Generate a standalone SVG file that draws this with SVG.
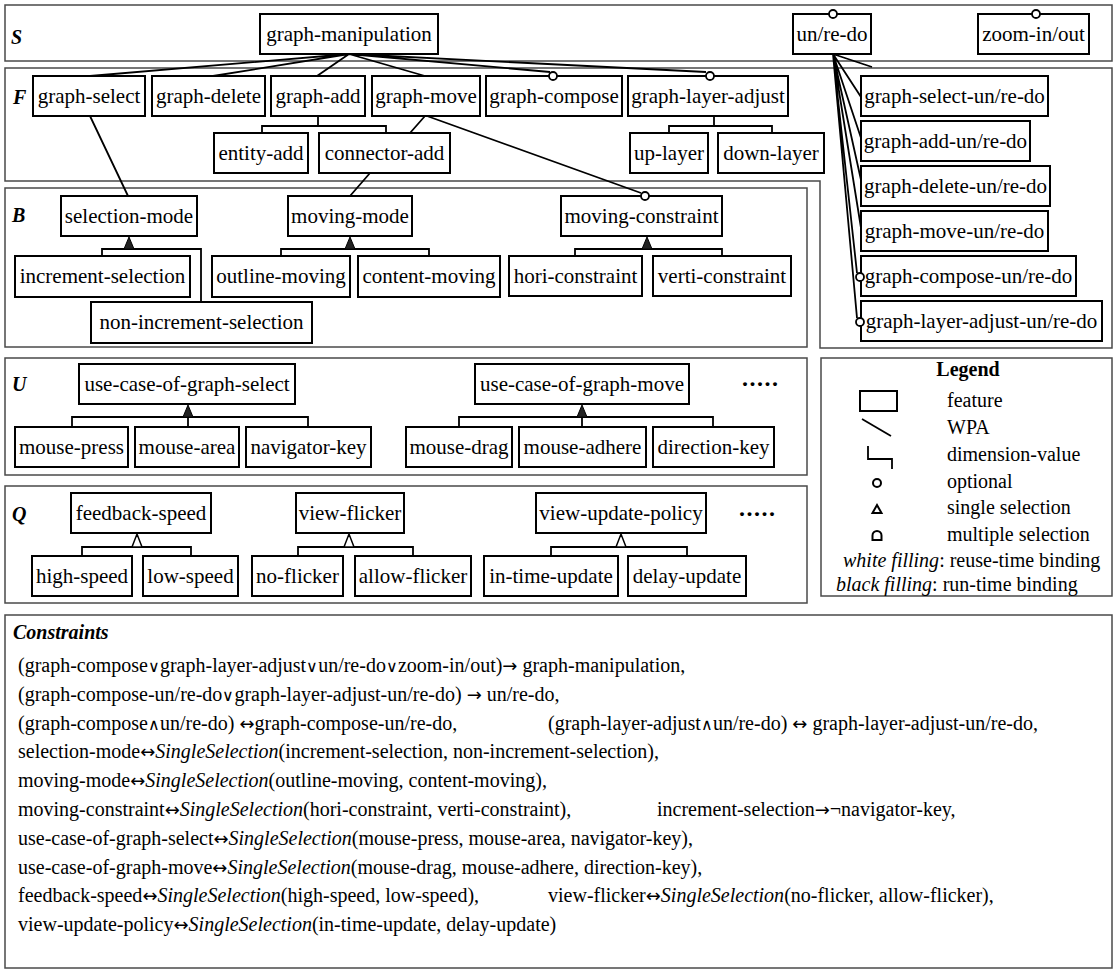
<svg xmlns="http://www.w3.org/2000/svg" width="1116" height="973" viewBox="0 0 1116 973">
<style>
.panel{fill:none;stroke:#4a4a4a;stroke-width:1.5}
.box{fill:#fff;stroke:#000;stroke-width:2}
.t{font-family:"Liberation Serif","Times New Roman",serif;font-size:21px;fill:#000;text-anchor:middle}
.lbl{font-family:"Liberation Serif","Times New Roman",serif;font-size:20px;font-weight:bold;font-style:italic;fill:#000}
.ln{stroke:#000;stroke-width:1.8;fill:none}
.opt{fill:#fff;stroke:#000;stroke-width:1.8}
.tb{fill:#222;stroke:#000;stroke-width:1}
.tw{fill:#fff;stroke:#000;stroke-width:1.5}
.c{font-family:"Liberation Serif","Times New Roman","DejaVu Serif",serif;font-size:20px;fill:#000}
.sym{font-family:"DejaVu Sans",sans-serif;font-size:16px;font-weight:200}
.ar{font-family:"DejaVu Sans",sans-serif;font-size:18px}
.lg{font-family:"Liberation Serif","Times New Roman",serif;font-size:20px;fill:#000}
.dots{font-family:"Liberation Serif",serif;font-size:24px;font-weight:bold;letter-spacing:1.5px}
</style>
<rect width="1116" height="973" fill="#fff"/>
<g id="panels">
<rect class="panel" x="5" y="5" width="1107" height="56"/>
<path class="panel" d="M5,68 H1112 V348 H820 V181 H5 Z"/>
<rect class="panel" x="5" y="188" width="802" height="159"/>
<rect class="panel" x="5" y="358" width="802" height="117"/>
<rect class="panel" x="5" y="486" width="802" height="117"/>
<rect class="panel" x="821" y="358" width="291" height="238"/>
<rect class="panel" x="5" y="615" width="1107" height="353"/>
<text class="lbl" x="11" y="44">S</text>
<text class="lbl" x="13" y="104">F</text>
<text class="lbl" x="12" y="222">B</text>
<text class="lbl" x="12" y="391">U</text>
<text class="lbl" x="12" y="521">Q</text>
</g>
<g id="connectors">
<path class="ln" d="M349,54 L90,76 M349,54 L213,76 M349,54 L317,76 M349,54 L425,76 M349,54 L550,72 M349,54 L706,72"/>
<path class="ln" d="M833,54 L872,67 M833,54 L861,97 M833,54 L861,138 M833,54 L861,180 M833,54 L861,228 M833,54 L857,273 M833,54 L857,318"/>
<path class="ln" d="M90,116 L128,196 M425,116 L410,133 M370,173 L350,196 M427,116 L641,193"/>
<path class="ln" d="M318,116 V126 M262,133 V126 H386 V133 M714,116 V126 M669,133 V126 H772 V133"/>
<path class="ln" d="M102,256 V249 H201 V302 M281,256 V249 H429 V256 M575,256 V249 H722 V256"/>
<path class="ln" d="M72,427 V417 H308 V427 M188,417 V427 M459,427 V417 H713 V427 M582,417 V427"/>
<path class="ln" d="M82,556 V547 H191 V556 M298,556 V547 H413 V556 M551,556 V547 H687 V556"/>
</g>
<g id="n-graph-manipulation"><rect class="box" x="260" y="14" width="178" height="40"/><text class="t" x="349" y="41">graph-manipulation</text></g>
<g id="n-un-re-do"><rect class="box" x="793" y="14" width="78" height="40"/><text class="t" x="832" y="41">un/re-do</text><circle class="opt" cx="833" cy="14" r="4"/></g>
<g id="n-zoom-in-out"><rect class="box" x="978" y="14" width="111" height="40"/><text class="t" x="1033.5" y="41">zoom-in/out</text><circle class="opt" cx="1036" cy="14" r="4"/></g>
<g id="n-graph-select"><rect class="box" x="33" y="76" width="112" height="40"/><text class="t" x="89" y="103">graph-select</text></g>
<g id="n-graph-delete"><rect class="box" x="152" y="76" width="113" height="40"/><text class="t" x="208.5" y="103">graph-delete</text></g>
<g id="n-graph-add"><rect class="box" x="271" y="76" width="94" height="40"/><text class="t" x="318" y="103">graph-add</text></g>
<g id="n-graph-move"><rect class="box" x="372" y="76" width="108" height="40"/><text class="t" x="426" y="103">graph-move</text></g>
<g id="n-graph-compose"><rect class="box" x="486" y="76" width="136" height="40"/><text class="t" x="554" y="103">graph-compose</text><circle class="opt" cx="553" cy="76" r="4"/></g>
<g id="n-graph-layer-adjust"><rect class="box" x="628" y="76" width="160" height="40"/><text class="t" x="708" y="103">graph-layer-adjust</text><circle class="opt" cx="710" cy="76" r="4"/></g>
<g id="n-entity-add"><rect class="box" x="214" y="133" width="94" height="40"/><text class="t" x="261" y="160">entity-add</text></g>
<g id="n-connector-add"><rect class="box" x="319" y="133" width="131" height="40"/><text class="t" x="384.5" y="160">connector-add</text></g>
<g id="n-up-layer"><rect class="box" x="630" y="133" width="78" height="40"/><text class="t" x="669" y="160">up-layer</text></g>
<g id="n-down-layer"><rect class="box" x="718" y="133" width="106" height="40"/><text class="t" x="771" y="160">down-layer</text></g>
<g id="n-graph-select-un-re-do"><rect class="box" x="861" y="76" width="187" height="40"/><text class="t" x="954.5" y="103">graph-select-un/re-do</text></g>
<g id="n-graph-add-un-re-do"><rect class="box" x="861" y="121" width="169" height="40"/><text class="t" x="945.5" y="148">graph-add-un/re-do</text></g>
<g id="n-graph-delete-un-re-do"><rect class="box" x="861" y="166" width="189" height="40"/><text class="t" x="955.5" y="193">graph-delete-un/re-do</text></g>
<g id="n-graph-move-un-re-do"><rect class="box" x="861" y="211" width="187" height="40"/><text class="t" x="954.5" y="238">graph-move-un/re-do</text></g>
<g id="n-graph-compose-un-re-do"><rect class="box" x="861" y="256" width="215" height="40"/><text class="t" x="968.5" y="283">graph-compose-un/re-do</text><circle class="opt" cx="860" cy="277" r="4"/></g>
<g id="n-graph-layer-adjust-un-re-do"><rect class="box" x="861" y="301" width="241" height="40"/><text class="t" x="981.5" y="328">graph-layer-adjust-un/re-do</text><circle class="opt" cx="860" cy="322" r="4"/></g>
<g id="n-selection-mode"><rect class="box" x="61" y="196" width="136" height="40"/><text class="t" x="129" y="223">selection-mode</text></g>
<g id="n-increment-selection"><rect class="box" x="15" y="256" width="175" height="41"/><text class="t" x="102.5" y="283">increment-selection</text></g>
<g id="n-non-increment-selection"><rect class="box" x="91" y="302" width="221" height="41"/><text class="t" x="201.5" y="329">non-increment-selection</text></g>
<g id="n-moving-mode"><rect class="box" x="288" y="196" width="124" height="40"/><text class="t" x="350" y="223">moving-mode</text></g>
<g id="n-outline-moving"><rect class="box" x="212" y="256" width="138" height="41"/><text class="t" x="281" y="283">outline-moving</text></g>
<g id="n-content-moving"><rect class="box" x="358" y="256" width="142" height="41"/><text class="t" x="429" y="283">content-moving</text></g>
<g id="n-moving-constraint"><rect class="box" x="561" y="196" width="161" height="40"/><text class="t" x="641.5" y="223">moving-constraint</text><circle class="opt" cx="645" cy="196" r="4"/></g>
<g id="n-hori-constraint"><rect class="box" x="509" y="256" width="133" height="40"/><text class="t" x="575.5" y="283">hori-constraint</text></g>
<g id="n-verti-constraint"><rect class="box" x="653" y="256" width="138" height="40"/><text class="t" x="722" y="283">verti-constraint</text></g>
<g id="n-use-case-of-graph-select"><rect class="box" x="79" y="364" width="216" height="40"/><text class="t" x="187" y="391">use-case-of-graph-select</text></g>
<g id="n-mouse-press"><rect class="box" x="15" y="427" width="113" height="40"/><text class="t" x="71.5" y="454">mouse-press</text></g>
<g id="n-mouse-area"><rect class="box" x="135" y="427" width="104" height="40"/><text class="t" x="187" y="454">mouse-area</text></g>
<g id="n-navigator-key"><rect class="box" x="246" y="427" width="125" height="40"/><text class="t" x="308.5" y="454">navigator-key</text></g>
<g id="n-use-case-of-graph-move"><rect class="box" x="475" y="364" width="214" height="40"/><text class="t" x="582" y="391">use-case-of-graph-move</text></g>
<g id="n-mouse-drag"><rect class="box" x="406" y="427" width="106" height="40"/><text class="t" x="459" y="454">mouse-drag</text></g>
<g id="n-mouse-adhere"><rect class="box" x="519" y="427" width="127" height="40"/><text class="t" x="582.5" y="454">mouse-adhere</text></g>
<g id="n-direction-key"><rect class="box" x="653" y="427" width="121" height="40"/><text class="t" x="713.5" y="454">direction-key</text></g>
<text class="dots" x="742" y="386">.....</text>
<g id="n-feedback-speed"><rect class="box" x="71" y="493" width="140" height="40"/><text class="t" x="141" y="520">feedback-speed</text></g>
<g id="n-high-speed"><rect class="box" x="32" y="556" width="100" height="40"/><text class="t" x="82" y="583">high-speed</text></g>
<g id="n-low-speed"><rect class="box" x="143" y="556" width="95" height="40"/><text class="t" x="190.5" y="583">low-speed</text></g>
<g id="n-view-flicker"><rect class="box" x="296" y="493" width="108" height="40"/><text class="t" x="350" y="520">view-flicker</text></g>
<g id="n-no-flicker"><rect class="box" x="252" y="556" width="91" height="40"/><text class="t" x="297.5" y="583">no-flicker</text></g>
<g id="n-allow-flicker"><rect class="box" x="355" y="556" width="116" height="40"/><text class="t" x="413" y="583">allow-flicker</text></g>
<g id="n-view-update-policy"><rect class="box" x="536" y="493" width="170" height="40"/><text class="t" x="621" y="520">view-update-policy</text></g>
<g id="n-in-time-update"><rect class="box" x="484" y="556" width="134" height="40"/><text class="t" x="551" y="583">in-time-update</text></g>
<g id="n-delay-update"><rect class="box" x="628" y="556" width="118" height="40"/><text class="t" x="687" y="583">delay-update</text></g>
<text class="dots" x="739" y="516">.....</text>
<g id="selection-markers">
<path class="tb" d="M124,249 L129,237 L134,249 Z M345,249 L350,237 L355,249 Z M642,249 L647,237 L652,249 Z"/>
<path class="tb" d="M183,417 L188,405 L193,417 Z M577,417 L582,405 L587,417 Z"/>
<path class="tw" d="M132,547 L137,534 L142,547 Z M344,547 L349,534 L354,547 Z M616,547 L621,534 L626,547 Z"/>
</g>
<g id="legend">
<text class="lg" x="968" y="376" text-anchor="middle" font-weight="bold">Legend</text>
<rect x="860" y="391" width="37" height="20" fill="#fff" stroke="#000" stroke-width="2"/>
<text class="lg" x="947" y="407">feature</text>
<line class="ln" x1="862" y1="419" x2="891" y2="436"/>
<text class="lg" x="947" y="434">WPA</text>
<path class="ln" d="M868,446 V459 H892 V469"/>
<text class="lg" x="947" y="461">dimension-value</text>
<circle cx="877" cy="483" r="4" fill="#fff" stroke="#000" stroke-width="2"/>
<text class="lg" x="947" y="488">optional</text>
<path d="M872.5,513 L877,505 L881.5,513 Z" fill="#fff" stroke="#000" stroke-width="2"/>
<text class="lg" x="947" y="514">single selection</text>
<path d="M872.5,540 V535.5 A4.5,4.5 0 0 1 881.5,535.5 V540 Z" fill="#fff" stroke="#000" stroke-width="2"/>
<text class="lg" x="947" y="541">multiple selection</text>
<text class="lg" x="843" y="567"><tspan font-style="italic">white filling</tspan>: reuse-time binding</text>
<text class="lg" x="836" y="591"><tspan font-style="italic">black filling</tspan>: run-time binding</text>
</g>
<g id="constraints">
<text class="lbl" x="13" y="639" font-size="19">Constraints</text>
<text class="c" x="18" y="672">(graph-compose<tspan class="sym">∨</tspan>graph-layer-adjust<tspan class="sym">∨</tspan>un/re-do<tspan class="sym">∨</tspan>zoom-in/out)<tspan class="ar">→</tspan> graph-manipulation,</text>
<text class="c" x="18" y="701">(graph-compose-un/re-do<tspan class="sym">∨</tspan>graph-layer-adjust-un/re-do) <tspan class="ar">→</tspan> un/re-do,</text>
<text class="c" x="18" y="730">(graph-compose<tspan class="sym">∧</tspan>un/re-do) <tspan class="ar">↔</tspan>graph-compose-un/re-do,</text>
<text class="c" x="548" y="730">(graph-layer-adjust<tspan class="sym">∧</tspan>un/re-do) <tspan class="ar">↔</tspan> graph-layer-adjust-un/re-do,</text>
<text class="c" x="18" y="758">selection-mode<tspan class="ar">↔</tspan><tspan font-style="italic">SingleSelection</tspan>(increment-selection, non-increment-selection),</text>
<text class="c" x="18" y="787">moving-mode<tspan class="ar">↔</tspan><tspan font-style="italic">SingleSelection</tspan>(outline-moving, content-moving),</text>
<text class="c" x="18" y="816">moving-constraint<tspan class="ar">↔</tspan><tspan font-style="italic">SingleSelection</tspan>(hori-constraint, verti-constraint),</text>
<text class="c" x="657" y="816">increment-selection<tspan class="ar">→</tspan>¬navigator-key,</text>
<text class="c" x="18" y="845">use-case-of-graph-select<tspan class="ar">↔</tspan><tspan font-style="italic">SingleSelection</tspan>(mouse-press, mouse-area, navigator-key),</text>
<text class="c" x="18" y="874">use-case-of-graph-move<tspan class="ar">↔</tspan><tspan font-style="italic">SingleSelection</tspan>(mouse-drag, mouse-adhere, direction-key),</text>
<text class="c" x="18" y="902">feedback-speed<tspan class="ar">↔</tspan><tspan font-style="italic">SingleSelection</tspan>(high-speed, low-speed),</text>
<text class="c" x="548" y="902">view-flicker<tspan class="ar">↔</tspan><tspan font-style="italic">SingleSelection</tspan>(no-flicker, allow-flicker),</text>
<text class="c" x="18" y="931">view-update-policy<tspan class="ar">↔</tspan><tspan font-style="italic">SingleSelection</tspan>(in-time-update, delay-update)</text>
</g>
</svg>
